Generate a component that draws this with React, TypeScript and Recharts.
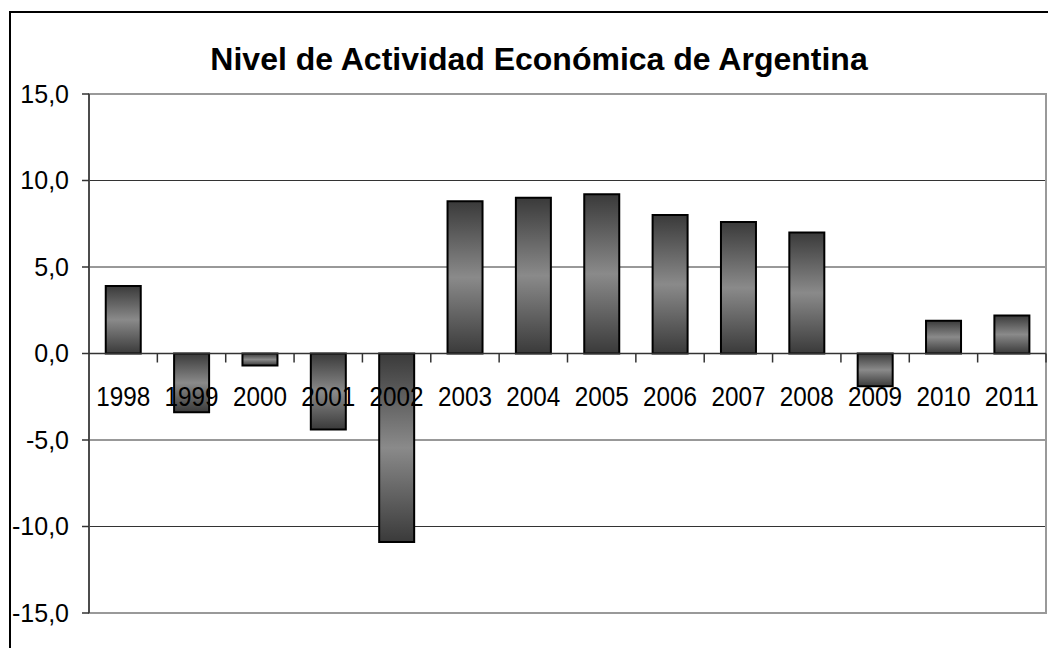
import * as React from "react"
import {
  Bar,
  BarChart,
  CartesianGrid,
  ReferenceArea,
  ReferenceLine,
  XAxis,
  YAxis,
} from "recharts"

const years = [
  "1998", "1999", "2000", "2001", "2002", "2003", "2004",
  "2005", "2006", "2007", "2008", "2009", "2010", "2011",
]
const growth = [3.9, -3.4, -0.7, -4.4, -10.9, 8.8, 9.0, 9.2, 8.0, 7.6, 7.0, -1.9, 1.9, 2.2]
const yTicks = [-15, -10, -5, 0, 5, 10, 15]
const title = "Nivel de Actividad Económica de Argentina"

const data = years.map((year, i) => ({ year, value: growth[i] }))

const font = '"Liberation Sans", Arial, sans-serif'

// category labels + ticks drawn along the zero line (Excel style)
function ZeroAxis(props: any) {
  const { x, y, width } = props.viewBox || {}
  if (x == null) return null
  const band = width / years.length
  return (
    <g>
      {years.map((_, i) => (
        <line
          key={"t" + i}
          x1={x + band * (i + 1)}
          x2={x + band * (i + 1)}
          y1={y}
          y2={y + 9}
          stroke="#333"
          strokeWidth={1.5}
        />
      ))}
      {years.map((yr, i) => (
        <text
          key={"l" + i}
          x={x + band * (i + 0.5)}
          y={y + 52}
          textAnchor="middle"
          fontFamily={font}
          fontSize={27}
          textLength={54}
          lengthAdjust="spacingAndGlyphs"
          fill="#000"
        >
          {yr}
        </text>
      ))}
    </g>
  )
}

export default function App() {
  return (
    <div
      style={{
        position: "absolute",
        left: 0,
        top: 0,
        width: 1048,
        height: 648,
        background: "#fff",
        overflow: "hidden",
      }}
    >
      <div
        style={{
          position: "absolute",
          left: 9,
          top: 11,
          width: 1200,
          height: 800,
          borderLeft: "2px solid #000",
          borderTop: "2px solid #000",
        }}
      />
      <svg
        width={1048}
        height={90}
        style={{ position: "absolute", left: 0, top: 0 }}
      >
        <text
          x={539}
          y={70}
          textAnchor="middle"
          fontFamily={font}
          fontWeight="bold"
          fontSize={32}
          fill="#000"
        >
          {title}
        </text>
      </svg>
      <div style={{ position: "absolute", left: 0, top: 0 }}>
        <BarChart
          width={1048}
          height={648}
          data={data}
          margin={{ top: 94, right: 2, bottom: 35, left: 0 }}
          barCategoryGap="24.5%"
        >
          <defs>
            <linearGradient id="barGrad" x1="0" y1="0" x2="0" y2="1">
              <stop offset="0%" stopColor="#3a3a3a" />
              <stop offset="50%" stopColor="#8a8a8a" />
              <stop offset="100%" stopColor="#3a3a3a" />
            </linearGradient>
          </defs>
          <CartesianGrid vertical={false} stroke="#333" strokeWidth={1} />
          <XAxis dataKey="year" hide />
          <YAxis
            width={89}
            domain={[-15, 15]}
            ticks={yTicks}
            interval={0}
            tickFormatter={(v: number) => v.toFixed(1).replace(".", ",")}
            axisLine={{ stroke: "#333", strokeWidth: 1.5 }}
            tickLine={{ stroke: "#333", strokeWidth: 1.5 }}
            tickSize={7}
            tickMargin={13}
            tick={{ fill: "#000", fontSize: 25, fontFamily: font }}
          />
          <ReferenceArea
            y1={-15}
            y2={15}
            fill="none"
            fillOpacity={0}
            stroke="#999"
            strokeWidth={2}
          />
          <Bar
            dataKey="value"
            fill="url(#barGrad)"
            stroke="#000"
            strokeWidth={2}
            isAnimationActive={false}
          />
          <ReferenceLine
            y={0}
            stroke="#333"
            strokeWidth={1.5}
            label={<ZeroAxis />}
          />
        </BarChart>
      </div>
    </div>
  )
}
